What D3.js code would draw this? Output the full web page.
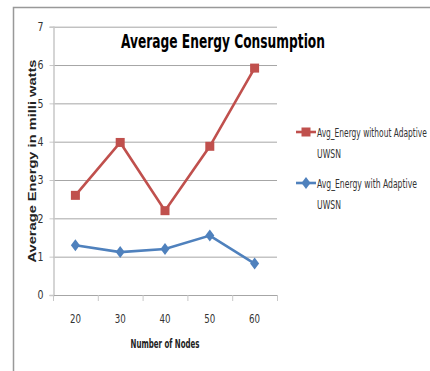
<!DOCTYPE html>
<html><head><meta charset="utf-8">
<script src="https://cdn.jsdelivr.net/npm/d3@7"></script>
<style>
html,body{margin:0;padding:0;background:#fff;}
svg{display:block;}
</style></head>
<body>
<svg id="c" width="430" height="371"></svg>
<script>
const categories = ["20","30","40","50","60"];
const withoutAdaptive = [2.6, 3.98, 2.2, 3.88, 5.92];
const withAdaptive = [1.3, 1.12, 1.2, 1.55, 0.82];
const yTicks = [0,1,2,3,4,5,6,7];
const seriesNames = ["Avg_Energy without Adaptive UWSN", "Avg_Energy with Adaptive UWSN"];
const titleText = "Average Energy Consumption";
const xTitle = "Number of Nodes";
const yTitle = "Average Energy in milli watts";

const red = "#C0504D", blue = "#4F81BD";
const narrow = "'DejaVu Sans Condensed','Liberation Sans Narrow','Liberation Sans',sans-serif";
const svg = d3.select("#c");

// horizontally squeeze a left-anchored text (at x0,y0) to a target width
function fitText(g, x0, y0, str, width, attrs){
  const t = g.append("text").attr("x",0).attr("y",0).text(str);
  Object.entries(attrs).forEach(([k,v])=>t.attr(k,v));
  const w = t.node().getComputedTextLength();
  const s = Math.min(1, width / w);
  t.attr("transform",`translate(${x0},${y0}) scale(${s},1)`);
  return t;
}

// frame
svg.append("path").attr("d","M13.5,371 V7.5 H430").attr("fill","none").attr("stroke","#999").attr("stroke-width",1.5);

const m = {l:53, r:277, t:26.7, b:295};
const x = d3.scaleBand().domain(categories).range([m.l, m.r]).padding(0);
const y = d3.scaleLinear().domain([0,7]).range([m.b, m.t]);

// gridlines
svg.append("g").selectAll("line").data(yTicks.filter(d=>d>0)).join("line")
  .attr("x1",m.l).attr("x2",m.r).attr("y1",d=>y(d)+0.5).attr("y2",d=>y(d)+0.5)
  .attr("stroke","#a6a6a6").attr("stroke-width",1);

// y axis
const ya = svg.append("g").attr("transform",`translate(${m.l+0.5},0)`)
  .call(d3.axisLeft(y).tickValues(yTicks).tickFormat(d3.format("d")).tickSize(4).tickPadding(6));
ya.select(".domain").attr("stroke","#c8c8c8").attr("stroke-width",1.5);
ya.selectAll(".tick line").attr("stroke","#c8c8c8");
ya.selectAll("text").attr("font-family",narrow).attr("font-size",12).attr("fill","#333")
  .attr("textLength",6).attr("lengthAdjust","spacingAndGlyphs");

// x axis
const bounds = categories.map(c=>x(c)).concat([m.r]);
const xg = svg.append("g");
xg.append("line").attr("x1",m.l).attr("x2",m.r).attr("y1",m.b+0.5).attr("y2",m.b+0.5).attr("stroke","#a6a6a6").attr("stroke-width",1.2);
xg.selectAll("line.t").data(bounds).join("line").attr("class","t")
  .attr("x1",d=>d+0.5).attr("x2",d=>d+0.5).attr("y1",m.b).attr("y2",m.b+6).attr("stroke","#c8c8c8");
xg.selectAll("text").data(categories).join("text")
  .attr("x",d=>x(d)+x.bandwidth()/2).attr("y",m.b+28)
  .attr("text-anchor","middle").attr("font-family",narrow).attr("font-size",12).attr("fill","#333")
  .attr("textLength",11).attr("lengthAdjust","spacingAndGlyphs").text(d=>d);

// lines
const cx = d=>x(d)+x.bandwidth()/2;
const line = d3.line().x((d,i)=>cx(categories[i])).y(d=>y(d));
svg.append("path").datum(withoutAdaptive).attr("d",line).attr("fill","none").attr("stroke",red).attr("stroke-width",2.6);
svg.append("path").datum(withAdaptive).attr("d",line).attr("fill","none").attr("stroke",blue).attr("stroke-width",2.6);

// markers
const sq = 9;
svg.append("g").selectAll("rect").data(withoutAdaptive).join("rect")
  .attr("x",(d,i)=>cx(categories[i])-sq/2).attr("y",d=>y(d)-sq/2).attr("width",sq).attr("height",sq).attr("fill",red);
const diamond = (px,py)=>`M${px},${py-6} L${px+4.5},${py} L${px},${py+6} L${px-4.5},${py} Z`;
svg.append("g").selectAll("path").data(withAdaptive).join("path")
  .attr("d",(d,i)=>diamond(cx(categories[i]),y(d))).attr("fill",blue);

// title
fitText(svg, 121, 48, titleText, 204, {"font-family":narrow,"font-weight":"bold","font-size":19,"fill":"#000"});

// axis titles
fitText(svg, 130.5, 348, xTitle, 69, {"font-family":narrow,"font-weight":"bold","font-size":11.5,"fill":"#222"});
svg.append("text").attr("transform","translate(36,161) rotate(-90)").attr("text-anchor","middle")
  .attr("font-family","'Liberation Sans',Arial,sans-serif").attr("font-weight","bold").attr("font-size",11)
  .attr("textLength",203).attr("lengthAdjust","spacingAndGlyphs").attr("fill","#222").text(yTitle);

// legend
const lg = svg.append("g");
const items = [{c:red, y:132, shape:"sq"},{c:blue, y:183, shape:"dia"}];
items.forEach((it,i)=>{
  lg.append("line").attr("x1",296).attr("x2",316).attr("y1",it.y).attr("y2",it.y).attr("stroke",it.c).attr("stroke-width",2.6);
  if(it.shape==="sq") lg.append("rect").attr("x",306-sq/2).attr("y",it.y-sq/2).attr("width",sq).attr("height",sq).attr("fill",it.c);
  else lg.append("path").attr("d",diamond(306,it.y)).attr("fill",it.c);
  const words = seriesNames[i].split(" ");
  const l1 = words.slice(0,-1).join(" "), l2 = words[words.length-1];
  const la = {"font-family":narrow,"font-size":13,"fill":"#333"};
  fitText(lg, 317, it.y+4.5, l1, i===0?110:100, la);
  fitText(lg, 317, it.y+25.5, l2, 24, la);
});
</script>
</body></html>
